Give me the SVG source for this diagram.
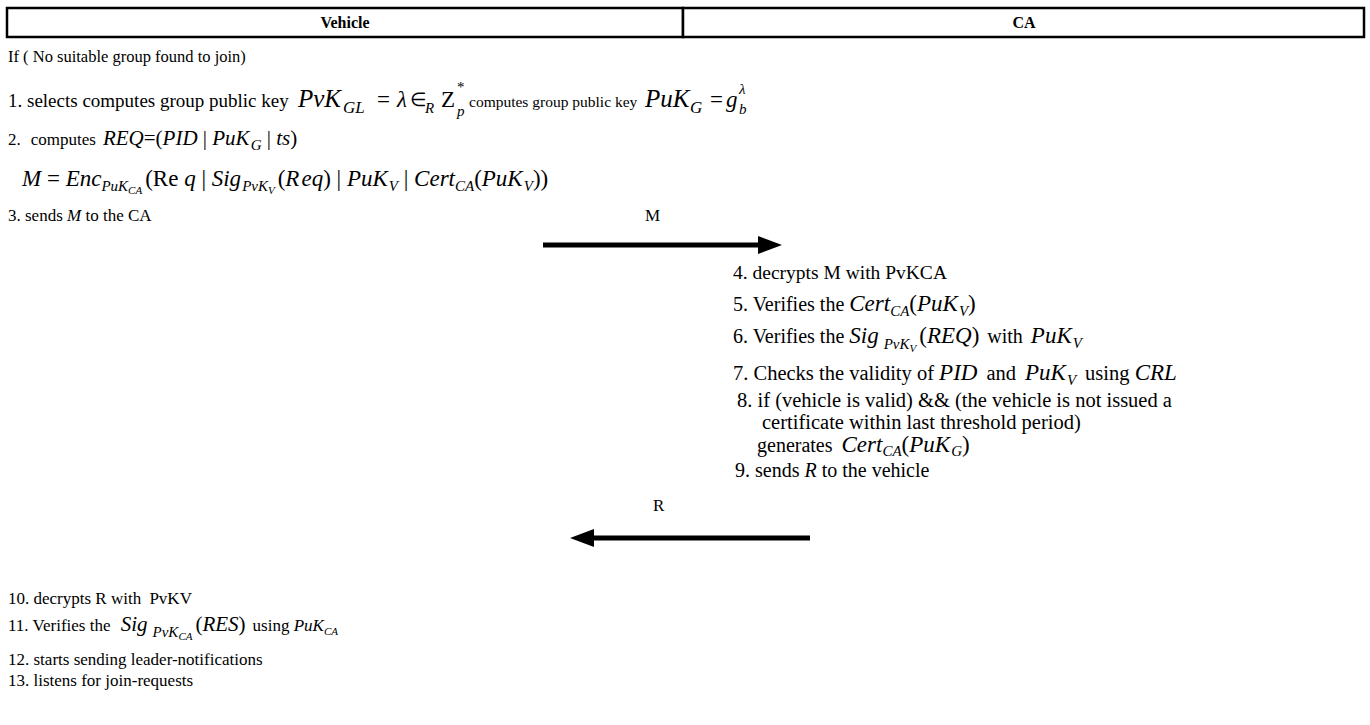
<svg xmlns="http://www.w3.org/2000/svg" width="1370" height="725" viewBox="0 0 1370 725">
<defs>
<style>
text{font-family:"Liberation Serif","Times New Roman",serif;font-size:17px;fill:#000}
.h{font-weight:bold;font-size:16px}
.c{font-size:20px}
.c2{font-size:20.5px}
.m{font-style:italic;font-size:23px}
.m2{font-style:italic;font-size:21px}
.s{font-style:italic;font-size:15px}
.ss{font-style:italic;font-size:11px}
.u{font-style:normal}
.box{fill:#fff;stroke:#000;stroke-width:2.5}
.conn{stroke:#000;stroke-width:5;fill:none}
</style>
<marker id="ah" markerUnits="userSpaceOnUse" markerWidth="24" markerHeight="18" refX="0" refY="9" orient="auto"><path d="M0,0 L24,9 L0,18 Z" fill="#000"/></marker>
</defs>
<rect width="1370" height="725" fill="#fff"/>

<g id="vehicle"><rect class="box" x="7" y="8" width="676" height="29"/><text class="h" x="345" y="28" text-anchor="middle">Vehicle</text></g>
<g id="ca"><rect class="box" x="683" y="8" width="681" height="29"/><text class="h" x="1024" y="28" text-anchor="middle">CA</text></g>

<g id="step0"><text x="8" y="62" style="font-size:16.5px">If ( No suitable group found to join)</text></g>

<g id="step1">
<text x="8" y="107" style="font-size:19px">1. selects computes group public key</text>
<text class="m" x="298" y="107" style="font-size:25px">PvK</text>
<text class="s" x="343" y="113" style="font-size:17px">GL</text>
<text class="m u" x="377" y="107">=</text>
<text class="m" x="397" y="107">λ</text>
<text class="u" x="410" y="106" style="font-size:19px">∈</text>
<text class="s" x="425" y="113">R</text>
<text class="m u" x="441" y="107">Z</text>
<text class="s u" x="457" y="92">*</text>
<text class="s" x="457" y="116">p</text>
<text x="469" y="107" style="font-size:15.5px">computes group public key</text>
<text class="m" x="645" y="107" style="font-size:25px">PuK</text>
<text class="s" x="690" y="113" style="font-size:17px">G</text>
<text class="m u" x="710" y="107">=</text>
<text class="m" x="726" y="107">g</text>
<text class="s" x="739" y="114">b</text>
<text class="s" x="739" y="94">λ</text>
</g>

<g id="step2">
<text x="8" y="145">2.<tspan dx="10">computes</tspan><tspan class="m2" dx="7">REQ</tspan><tspan class="m2 u">=(</tspan><tspan class="m2">PID</tspan><tspan class="m2 u"> | </tspan><tspan class="m2">PuK</tspan><tspan class="s" dy="5" dx="1">G</tspan><tspan class="m2 u" dy="-5"> | </tspan><tspan class="m2">ts</tspan><tspan class="m2 u">)</tspan></text>
<text class="m" x="22" y="186">M<tspan class="u"> = </tspan>Enc<tspan class="s" dy="5">PuK</tspan><tspan class="ss" dy="3">CA</tspan><tspan class="u" dy="-8" dx="3">(Re </tspan><tspan>q</tspan><tspan class="u"> | </tspan>Sig<tspan class="s" dy="5" dx="1">PvK</tspan><tspan class="ss" dy="3">V</tspan><tspan class="u" dy="-8" dx="3">(</tspan>R<tspan dx="2">eq</tspan><tspan class="u">) | </tspan>PuK<tspan class="s" dy="5" dx="1">V</tspan><tspan class="u" dy="-5"> | </tspan>Cert<tspan class="s" dy="5">CA</tspan><tspan class="u" dy="-5">(</tspan>PuK<tspan class="s" dy="5" dx="1">V</tspan><tspan class="u" dy="-5">))</tspan></text>
</g>

<g id="step3">
<text x="8" y="221">3. sends <tspan font-style="italic">M</tspan> to the CA</text>
</g>

<g id="connectors">
<line class="conn" x1="543" y1="245" x2="758" y2="245" marker-end="url(#ah)"/>
<text x="645" y="221">M</text>
<line class="conn" x1="810" y1="538" x2="594" y2="538" marker-end="url(#ah)"/>
<text x="653" y="511">R</text>
</g>

<g id="step4"><text x="733" y="279" style="font-size:19.5px">4. decrypts M with PvKCA</text></g>
<g id="step5"><text class="c" x="733" y="311">5. Verifies the <tspan class="m">Cert</tspan><tspan class="s" dy="5">CA</tspan><tspan class="m u" dy="-5">(</tspan><tspan class="m">PuK</tspan><tspan class="s" dy="5" dx="1">V</tspan><tspan class="m u" dy="-5">)</tspan></text></g>
<g id="step6"><text class="c" x="733" y="343">6. Verifies the <tspan class="m">Sig</tspan><tspan class="s" dy="6" dx="5">PvK</tspan><tspan class="ss" dy="3">V</tspan><tspan class="m u" dy="-9" dx="3">(</tspan><tspan class="m">REQ</tspan><tspan class="m u">)</tspan><tspan dx="8">with</tspan><tspan class="m" dx="8">PuK</tspan><tspan class="s" dy="5" dx="1">V</tspan></text></g>
<g id="step7"><text class="c2" x="733" y="380">7. Checks the validity of <tspan class="m">PID</tspan><tspan dx="9">and</tspan><tspan class="m" dx="9">PuK</tspan><tspan class="s" dy="5" dx="1">V</tspan><tspan dy="-5" dx="9">using</tspan> <tspan class="m">CRL</tspan></text></g>
<g id="step8">
<text class="c2" x="737" y="407">8. if (vehicle is valid) &amp;&amp; (the vehicle is not issued a</text>
<text class="c2" x="762" y="429">certificate within last threshold period)</text>
<text class="c" x="757" y="452">generates <tspan class="m" dx="4">Cert</tspan><tspan class="s" dy="4">CA</tspan><tspan class="m u" dy="-4">(</tspan><tspan class="m">PuK</tspan><tspan class="s" dy="4" dx="1">G</tspan><tspan class="m u" dy="-4">)</tspan></text>
</g>
<g id="step9"><text class="c" x="735" y="477">9. sends <tspan font-style="italic">R</tspan> to the vehicle</text></g>

<g id="step10"><text x="8" y="604">10. decrypts R with <tspan dx="4">PvKV</tspan></text></g>
<g id="step11"><text x="8" y="631">11. Verifies the <tspan class="m2" dx="6">Sig</tspan><tspan class="s" dy="6" dx="5">PvK</tspan><tspan class="ss" dy="3">CA</tspan><tspan class="m2 u" dy="-9" dx="3">(</tspan><tspan class="m2">RES</tspan><tspan class="m2 u">)</tspan><tspan dx="7">using</tspan> <tspan font-style="italic">PuK</tspan><tspan class="ss" dy="4">CA</tspan></text></g>
<g id="step12"><text x="8" y="665">12. starts sending leader-notifications</text></g>
<g id="step13"><text x="8" y="686">13. listens for join-requests</text></g>
</svg>
